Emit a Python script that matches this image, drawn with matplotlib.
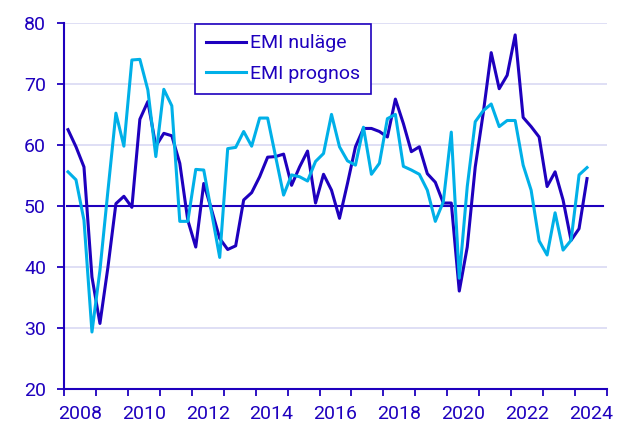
import matplotlib.pyplot as plt
import numpy as np

plt.rcParams['font.family'] = ['Roboto', 'DejaVu Sans']

dark = '#1e00be'
light = '#00b0e8'
grid_col = '#d6d6f2'

# quarterly values, 2008 Q1 - 2024 Q2
start_year = 2008
nulage = [62.5, 59.7, 56.4, 38.4, 30.8, 40.0, 50.4, 51.6, 49.8, 64.2, 67.1,
          59.8, 61.9, 61.5, 57.0, 47.7, 43.3, 53.7, 49.3, 44.7, 42.9, 43.5, 51.0,
          52.2, 54.8, 58.0, 58.1, 58.5, 53.4, 56.4, 59.0, 50.5, 55.2, 52.6,
          48.0, 53.7, 59.7, 62.7, 62.7, 62.2, 61.3, 67.5, 63.5, 58.9, 59.7,
          55.3, 53.9, 50.5, 50.5, 36.1, 43.3, 56.4, 65.2, 75.1, 69.2, 71.4, 78.0,
          64.5, 63.0, 61.3, 53.2, 55.6, 51.0, 44.4, 46.3, 54.5]
prognos = [55.6, 54.3, 47.7, 29.4, 39.5, 52.5, 65.2, 59.8, 73.9, 74.0, 69.0,
           58.1, 69.1, 66.4, 47.5, 47.5, 56.0, 55.9, 48.8, 41.6, 59.4, 59.6, 62.2,
           59.8, 64.4, 64.4, 58.1, 51.8, 55.1, 54.8, 54.1, 57.3, 58.6, 65.0,
           59.7, 57.4, 56.7, 62.9, 55.2, 57.0, 64.3, 65.0, 56.5, 55.9, 55.2,
           52.6, 47.5, 50.7, 62.1, 38.2, 53.2, 63.8, 65.6, 66.7, 63.0, 64.0, 64.0,
           56.7, 52.6, 44.3, 42.0, 48.9, 42.8, 44.4, 55.1, 56.3]
labels = ['EMI nuläge', 'EMI prognos']
year_labels = [str(y) for y in range(2008, 2025, 2)]

x = start_year + (np.arange(len(nulage)) + 0.5) / 4

fig = plt.figure(figsize=(6.19, 4.28), dpi=100)
ax = fig.add_axes([0.1034, 0.090, 0.8772, 0.857])

for y in [30, 40, 60, 70, 80]:
    ax.axhline(y, color=grid_col, lw=1.1, zorder=1)
ax.axhline(50, xmin=0.006, xmax=0.993, color=dark, lw=1.5, zorder=2)

ax.plot(x, nulage, color=dark, lw=2.2, label=labels[0], zorder=3)
ax.plot(x, prognos, color=light, lw=2.2, label=labels[1], zorder=3)

ax.set_xlim(2008, 2025)
ax.set_ylim(20, 80)
ax.set_yticks(range(20, 81, 10))
ax.set_xticks(range(2008, 2026))
ax.set_xticklabels([])
ax.set_xticks([int(s) + 0.5 for s in year_labels], minor=True)
ax.set_xticklabels(year_labels, minor=True)

for s in ['top', 'right']:
    ax.spines[s].set_visible(False)
for s in ['left', 'bottom']:
    ax.spines[s].set_color(dark)
    ax.spines[s].set_linewidth(1.5)

ax.tick_params(axis='both', which='major', color=dark, labelcolor=dark,
               length=5, width=1.3, labelsize=14)
ax.tick_params(axis='y', pad=8)
ax.tick_params(axis='x', which='minor', length=0, labelcolor=dark,
               labelsize=14, pad=11)

leg = ax.legend(loc='upper left', bbox_to_anchor=(0.241, 0.997), borderaxespad=0,
                fancybox=False, framealpha=1, edgecolor=dark, fontsize=14,
                handlelength=2.1, handletextpad=0.2, labelspacing=0.65,
                borderpad=0.55)
leg.get_frame().set_linewidth(1.2)
for t in leg.get_texts():
    t.set_color(dark)
leg.set_zorder(5)

fig.savefig('out.png', dpi=100)
